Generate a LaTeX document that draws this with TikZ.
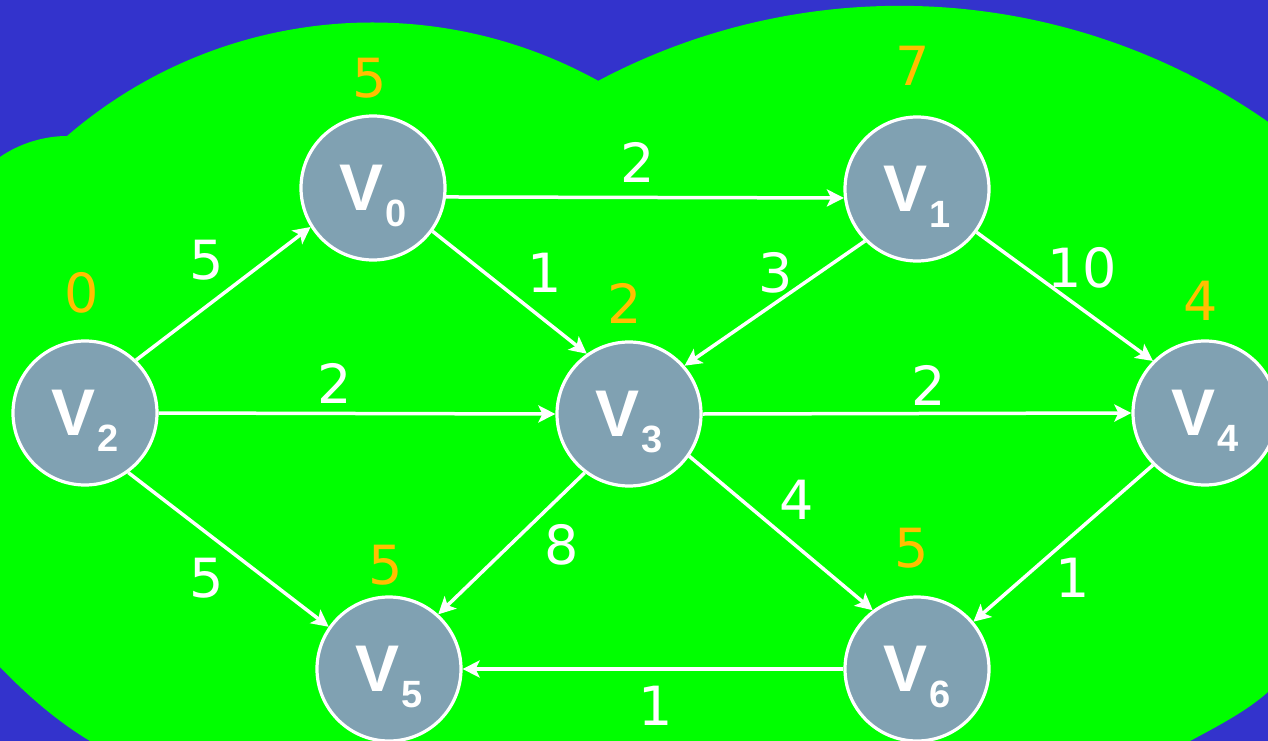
\documentclass[tikz,border=0pt]{standalone}
\usepackage{fontspec}
\setmainfont{DejaVu Sans}
\newfontfamily\vertexfont{Liberation Sans}
\usepackage{tikz}
\usetikzlibrary{arrows.meta}
\definecolor{backblue}{HTML}{3333CC}
\definecolor{cloudgreen}{HTML}{00FF00}
\definecolor{vertexgray}{HTML}{80A1B2}
\definecolor{distorange}{HTML}{FFBF00}
\newcommand{\vname}[1]{\vertexfont\bfseries\fontsize{66}{66}\selectfont V\kern1.5pt\smash{\raisebox{-16pt}{\fontsize{38}{38}\selectfont #1}}}

\begin{document}
\begin{tikzpicture}[x=1pt, y=-1pt,
    vertex/.style={circle, fill=vertexgray, draw=white, line width=3.2pt,
      minimum size=144pt, inner sep=0pt, text=white},
    edge/.style={white, line width=3.5pt, -{Stealth[length=17pt,width=17pt,inset=4pt]}},
    weight/.style={text=white, inner sep=0pt, font=\fontsize{54}{54}\selectfont},
    dist/.style={weight, text=distorange}]
  \fill[backblue] (0,0) rectangle (1268,741);
  \useasboundingbox (0,0) rectangle (1268,741);
  % the cloud behind the graph
  \fill[cloudgreen] (0,157) .. controls (20,143) and (45,136) .. (67,136)
    arc[start angle=130.8, end angle=61.06, radius=467.1pt]
    arc[start angle=117.95, end angle=55.04, radius=643pt]
    -- (1268,692) .. controls (1248,710) and (1220,725) .. (1190,741)
    -- (90,741) .. controls (55,720) and (25,693) .. (0,667) -- cycle;
  % vertices
  \foreach \n/\x/\y in {0/373/188, 1/917/189, 2/85/413, 3/629/414,
    4/1205/413, 5/389/669, 6/917/669}{
    \node[vertex] (V\n) at (\x,\y) {\vname{\n}};
  }
  % edges, from one border point to the other
  \foreach \a/\sa/\b/\sb in {2/46/0/212, 0/-7/1/187, 0/-36/3/125, 1/225/3/41.5,
    1/-36.5/4/135, 2/0/3/180, 3/0/4/180, 2/-54/5/145, 3/233/5/48,
    3/-35/6/127, 4/225/6/40, 6/180/5/0}{
    \draw[edge] (V\a.\sa) -- (V\b.\sb);
  }
  % edge weights
  \foreach \x/\y/\w [count=\i] in {638/162/2, 207/260/5, 545/273/1, 776/273/3,
    1082/268/10, 335/383/2, 929/385/2, 207/578/5, 562/545/8, 797/500/4,
    1073/578/1, 656/706/1}{
    \node[weight] (w\i) at (\x,\y) {\w};
  }
  % current distances
  \foreach \x/\y/\d/\n in {370/78/5/0, 913/66/7/1, 82/293/0/2, 625/303/2/3,
    1201/301/4/4, 386/565/5/5, 912/548/5/6}{
    \node[dist] (d\n) at (\x,\y) {\d};
  }
\end{tikzpicture}
\end{document}
